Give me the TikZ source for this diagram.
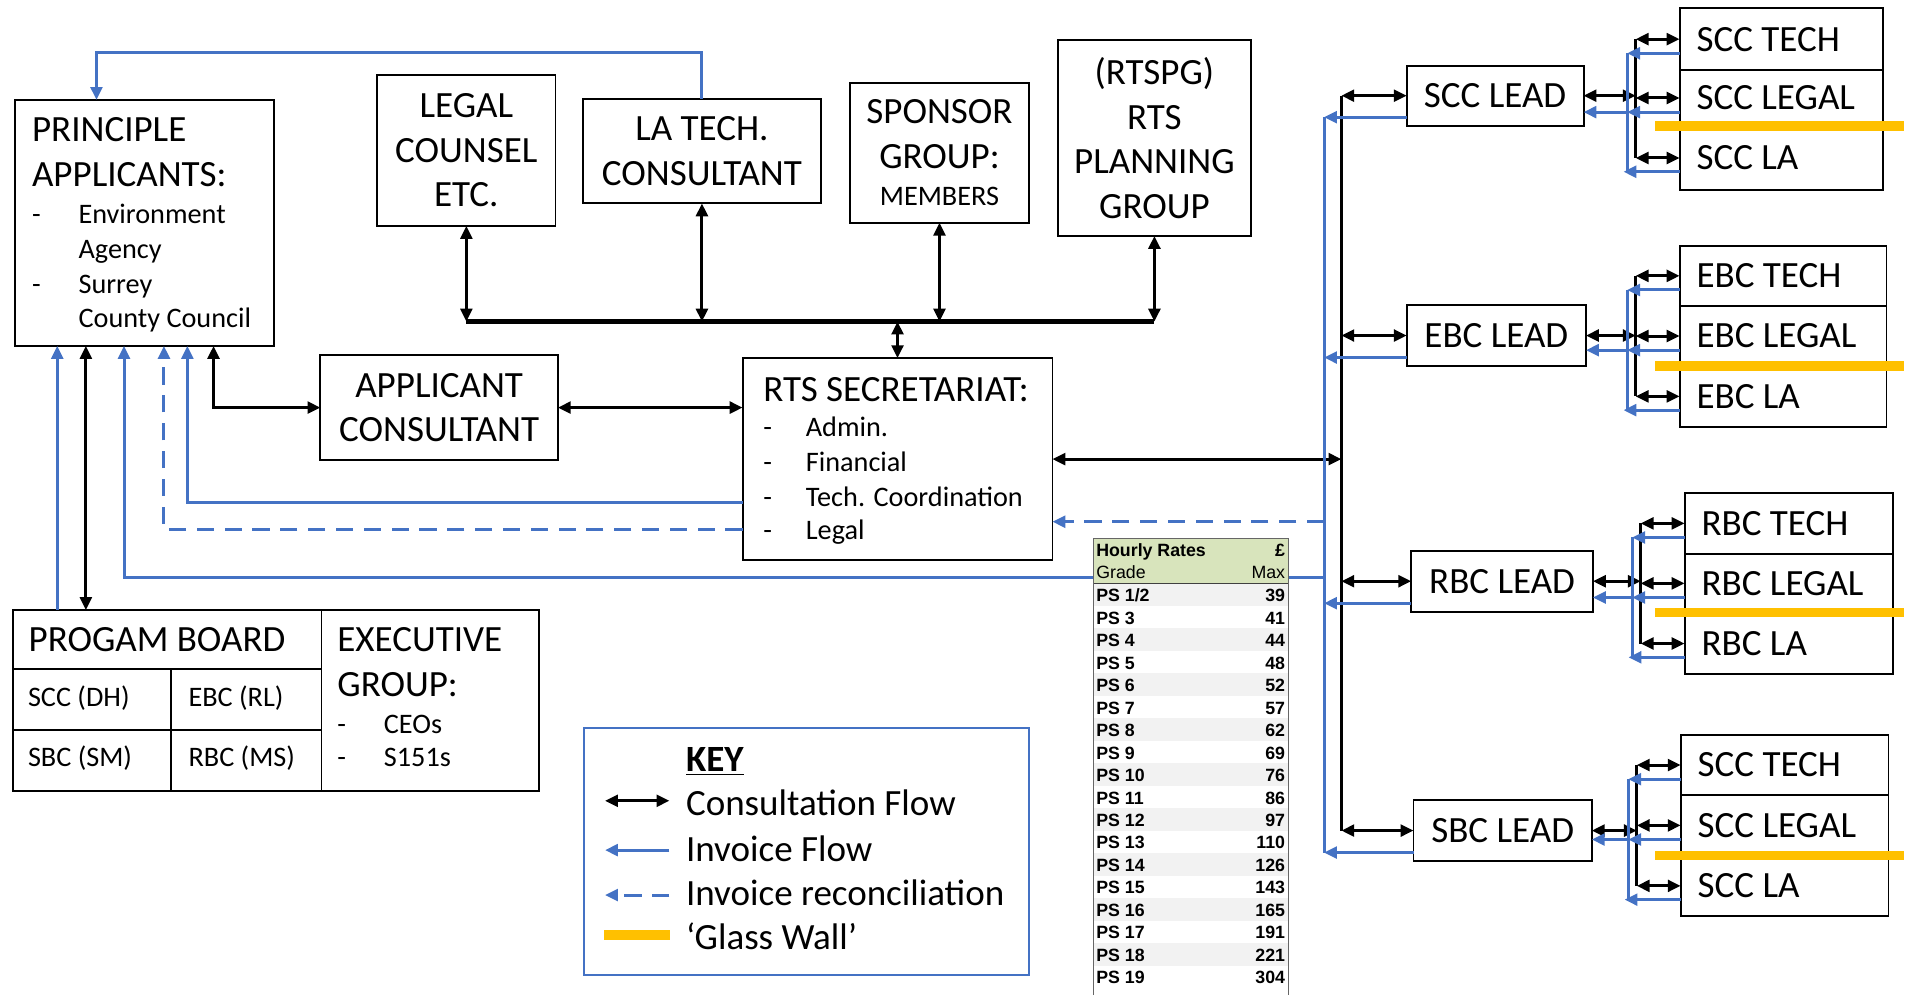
\documentclass[tikz,border=0pt]{standalone}
\usepackage{fontspec}
\setmainfont{Carlito}
\newfontfamily\tabfont{Liberation Sans}
\usetikzlibrary{arrows.meta,calc}
\definecolor{invblue}{HTML}{4472C4}
\definecolor{glass}{HTML}{FFC000}
\definecolor{hdrgreen}{HTML}{D8E4BC}
\definecolor{rowgrey}{HTML}{F2F2F2}
\newcommand\bigf{\fontsize{17.3}{20.9}\selectfont}
\newcommand\smf{\fontsize{13.2}{16}\selectfont}
\newcommand\tabB{\tabfont\bfseries\fontsize{8.3}{10}\selectfont}
\newcommand\tabR{\tabfont\fontsize{8.3}{10}\selectfont}
% sub group: #1 prefix, #2 label, #3 left x, #4 right x, #5..#8 y borders, #9 lead node
\newcommand\subgrp[9]{%
  \pgfmathsetmacro\sgcx{(#3+#4)/2}\pgfmathsetmacro\sgw{#4-#3}%
  \pgfmathsetmacro\sgca{(#5+#6)/2}\pgfmathsetmacro\sgha{#6-#5}%
  \pgfmathsetmacro\sgcb{(#6+#7)/2}\pgfmathsetmacro\sghb{#7-#6}%
  \pgfmathsetmacro\sgcc{(#7+#8)/2}\pgfmathsetmacro\sghc{#8-#7}%
  \node[cell, sz={\sgw}{\sgha}] (#1T) at (\sgcx,\sgca) {};
  \node[cell, sz={\sgw}{\sghb}] (#1G) at (\sgcx,\sgcb) {};
  \node[cell, sz={\sgw}{\sghc}] (#1A) at (\sgcx,\sgcc) {};
  \node[subt] (#1Tt) at ($(#1T.west)+(14,0)$) {#2 TECH};
  \node[subt] (#1Gt) at ($(#1G.west)+(14,0)$) {#2 LEGAL};
  \node[subt] (#1At) at ($(#1A.west)+(14,0)$) {#2 LA};
  \coordinate (#1K) at ({#3-36},0);
  \coordinate (#1U) at ({#3-43},0);
  \draw[con] (#9.east) -- (#9.east -| #1K);
  \draw[kline] (#1K |- #1T.west) -- (#1K |- #1A.west);
  \draw[con] (#1K |- #1T.west) -- (#1T.west);
  \draw[con] (#1K |- #1G.west) -- (#1G.west);
  \draw[con] (#1K |- #1A.west) -- (#1A.west);
  \coordinate (#1Tb) at ($(#1T.west)+(0,11.6)$);
  \coordinate (#1Gb) at ($(#1G.west)+(0,11.6)$);
  \coordinate (#1Ab) at ($(#1A.west)+(0,11.3)$);
  \draw[invl] (#1U |- #1Tb) -- (#1U |- #1Ab);
  \draw[inv] (#1Tb) -- (#1U |- #1Tb);
  \draw[inv] (#1Gb) -- (#1U |- #1Gb);
  \draw[inv] (#1Ab) -- ($(#1U |- #1Ab)+(-3,0)$);
  \draw[inv] (#1U |- #1Gb) -- (#9.east |- #1Gb);
  \draw[gw] (1359,#7) -- (1563,#7);
}
\begin{document}
\begin{tikzpicture}[x=0.02cm,y=-0.02cm,
  sz/.style 2 args={minimum width=#1*0.02cm, minimum height=#2*0.02cm},
  box/.style={draw, line width=0.9pt, inner sep=0pt, outer sep=0pt, align=center, font=\bigf},
  cell/.style={draw, line width=0.9pt, inner sep=0pt, outer sep=0pt},
  subt/.style={anchor=west, inner sep=0pt, outer sep=0pt, font=\bigf},
  txt/.style={inner sep=0pt, outer sep=0pt, anchor=base west},
  tip/.tip={Triangle[length=6pt,width=5.5pt]},
  con/.style={line width=1.4pt, tip-tip},
  kline/.style={line width=1.4pt},
  busl/.style={line width=2pt},
  inv/.style={invblue, line width=1.4pt, -tip},
  invl/.style={invblue, line width=1.4pt},
  rec/.style={inv, dash pattern=on 8pt off 5pt},
  gw/.style={glass, line width=4.3pt},
]
\useasboundingbox (0,0) rectangle (1568,817);

% ---------- boxes ----------
\node[box, sz={212.3}{202}] (pa) at (118.45,183) {};
\node[txt, font=\bigf] (pa1) at (26.3,116.3) {PRINCIPLE};
\node[txt, font=\bigf] (pa2) at (26.3,153.3) {APPLICANTS:};
\node[txt, font=\smf] (pa3) at (26.3,183.4) {\makebox[0.764cm][l]{-}Environment};
\node[txt, font=\smf] (pa4) at (64.5,212.1) {Agency};
\node[txt, font=\smf] (pa5) at (26.3,240.8) {\makebox[0.764cm][l]{-}Surrey};
\node[txt, font=\smf] (pa6) at (64.5,268.7) {County Council};

\node[box, sz={146.3}{124.3}] (lc) at (382.85,123.35) {LEGAL\\COUNSEL\\ETC.};
\node[box, sz={195.5}{86.1}] (lat) at (576.25,123.95) {LA TECH.\\CONSULTANT};
\node[box, sz={147.5}{115}] (sp) at (771.25,125.3) {SPONSOR\\GROUP:\\[-3.9pt]{\smf MEMBERS}};
\node[box, sz={158.6}{160.7}] (rp) at (947.7,113.35) {(RTSPG)\\RTS\\PLANNING\\GROUP};
\node[box, sz={195}{86.2}] (ac) at (360.5,334.6) {APPLICANT\\CONSULTANT};

\node[box, sz={254.4}{165.8}] (sec) at (736.8,376.9) {};
\node[txt, font=\bigf] (sec1) at (626.6,329.8) {RTS SECRETARIAT:};
\node[txt, font=\smf] (sec2) at (626.6,358.5) {\makebox[0.70cm][l]{-}Admin.};
\node[txt, font=\smf] (sec3) at (626.6,387.3) {\makebox[0.70cm][l]{-}Financial};
\node[txt, font=\smf] (sec4) at (626.6,416) {\makebox[0.70cm][l]{-}Tech. Coordination};
\node[txt, font=\smf] (sec5) at (626.6,443.3) {\makebox[0.70cm][l]{-}Legal};

% program board
\node[cell, sz={253.6}{48.5}] (pbt) at (137.1,525.05) {};
\node[cell, sz={130.4}{50}] (pb11) at (75.5,574.3) {};
\node[cell, sz={123.2}{50}] (pb12) at (202.3,574.3) {};
\node[cell, sz={130.4}{50.1}] (pb21) at (75.5,624.35) {};
\node[cell, sz={123.2}{50.1}] (pb22) at (202.3,624.35) {};
\node[cell, sz={178.3}{148.6}] (exg) at (353.05,575.1) {};
\node[txt, font=\bigf] (pbt1) at (23.5,535) {PROGAM BOARD};
\node[txt, font=\smf] (pb11t) at (23,580.2) {SCC (DH)};
\node[txt, font=\smf] (pb12t) at (154.8,580.2) {EBC (RL)};
\node[txt, font=\smf] (pb21t) at (23,629.4) {SBC (SM)};
\node[txt, font=\smf] (pb22t) at (154.8,629.4) {RBC (MS)};
\node[txt, font=\bigf] (ex1) at (277,535) {EXECUTIVE};
\node[txt, font=\bigf] (ex2) at (277,572) {GROUP:};
\node[txt, font=\smf] (ex3) at (277,602) {\makebox[0.764cm][l]{-}CEOs};
\node[txt, font=\smf] (ex4) at (277,629.4) {\makebox[0.764cm][l]{-}S151s};

% leads
\node[box, sz={145.2}{49.3}] (scl) at (1227.4,78.55) {SCC LEAD};
\node[box, sz={147.2}{50.1}] (ebl) at (1228.4,275.45) {EBC LEAD};
\node[box, sz={149.2}{50.1}] (rbl) at (1233.1,477.15) {RBC LEAD};
\node[box, sz={146.4}{50.1}] (sbl) at (1233.6,681.85) {SBC LEAD};

% ---------- coordinates ----------
\coordinate (bus) at (0,264);
\coordinate (rbus) at (1101.2,0);
\coordinate (bbus) at (1087,0);
\coordinate (topL) at (79.2,43.3);
\coordinate (xa) at (47,0);
\coordinate (xb) at (70.5,0);
\coordinate (xc) at (101.8,0);
\coordinate (xd) at (134.6,0);
\coordinate (xe) at (153.8,0);
\coordinate (xf) at (175.3,0);
\coordinate (yinv) at (0,474.3);
\coordinate (yrec) at (0,434.6);
\coordinate (yinv2) at (0,412.7);
\coordinate (yrec2) at (0,428.3);

% ---------- top consultation bus ----------
\draw[busl] (lc.south |- bus) -- (rp.south |- bus);
\draw[con] (lc.south) -- (lc.south |- bus);
\draw[con] (lat.south) -- (lat.south |- bus);
\draw[con] (sp.south) -- (sp.south |- bus);
\draw[con] (rp.south) -- (rp.south |- bus);
\draw[con] (sec.north |- bus) -- (sec.north);

% LA tech invoice to principle applicants
\draw[inv] (lat.north) |- (topL) -- (topL |- pa.north);

% ---------- left connectors ----------
\draw[inv] (xa |- pbt.north) -- (xa |- pa.south);
\draw[con] (xb |- pa.south) -- (xb |- pbt.north);
\draw[inv] (bbus |- yinv) -| (xc |- pa.south);
\draw[rec] (sec.west |- yrec) -| (xd |- pa.south);
\draw[inv] (sec.west |- yinv2) -| (xe |- pa.south);
\draw[con] (xf |- pa.south) |- (ac.west);
\draw[con] (ac.east) -- (ac.east -| sec.west);
\draw[con] (sec.east) -- (sec.east -| rbus);
\draw[rec] (bbus |- yrec2) -- (sec.east |- yrec2);

% ---------- right buses ----------
\draw[kline] (rbus |- scl.west) -- (rbus |- sbl.west);
\foreach \L in {scl,ebl,rbl,sbl} {
  \draw[con] (rbus |- \L.west) -- (\L.west);
  \coordinate (\L b) at ($(\L.south west)+(0,-7)$);
  \draw[inv] (\L b) -- (bbus |- \L b);
}
\draw[invl] (bbus |- sclb) -- (bbus |- sblb);

% ---------- sub groups ----------
\subgrp{sc}{SCC}{1378.8}{1545.6}{6.8}{57.5}{103.4}{156}{scl}
\subgrp{eb}{EBC}{1378.8}{1548.7}{201.7}{251.2}{300.5}{350.3}{ebl}
\subgrp{rb}{RBC}{1382.9}{1554}{404.5}{454.8}{503}{553.6}{rbl}
\subgrp{sb}{SCC}{1379.7}{1550.3}{603.4}{652.7}{702.5}{752}{sbl}

% ---------- key ----------
\node[draw=invblue, line width=0.8pt, inner sep=0pt, sz={365.1}{203.1}] (key) at (662.05,698.95) {};
\node[txt, font=\bigf\bfseries] (k0) at (563.2,633) {\underline{KEY}};
\node[txt, font=\bigf] (k1) at (563.2,669.1) {Consultation Flow};
\node[txt, font=\bigf] (k2) at (563.2,706.9) {Invoice Flow};
\node[txt, font=\bigf] (k3) at (563.2,743) {Invoice reconciliation};
\node[txt, font=\bigf] (k4) at (563.2,779.4) {‘Glass Wall’};
\coordinate (ka1) at (496.7,657.4); \coordinate (kb1) at (549.5,657.4);
\coordinate (ka2) at (496.7,697.9); \coordinate (kb2) at (549.5,697.9);
\coordinate (ka3) at (496.7,734.8); \coordinate (kb3) at (549.5,734.8);
\coordinate (ka4) at (496,767.6);   \coordinate (kb4) at (550,767.6);
\draw[con] (ka1) -- (kb1);
\draw[inv] (kb2) -- (ka2);
\draw[rec] (kb3) -- (ka3);
\draw[gw] (ka4) -- (kb4);

% ---------- hourly rates table ----------
\fill[white] (897.6,442) rectangle (1057.5,817);
\fill[hdrgreen] (897.6,442) rectangle (1057.5,479);
\foreach \i in {0,2,...,16} {
  \fill[rowgrey] (897.6,{479+18.45*\i}) rectangle (1057.5,{479+18.45*(\i+1)});
}
\draw[black!75, line width=0.8pt] (897.6,479) -- (1057.5,479);
\draw[black!60, line width=0.6pt] (897.6,817) -- (897.6,442) -- (1057.5,442) -- (1057.5,817);
\node[txt, font=\tabB] (th1) at (900,456.5) {Hourly Rates};
\node[txt, anchor=base east, font=\tabB] (th2) at (1055,456.5) {£};
\node[txt, font=\tabR] (th3) at (900,474.8) {Grade};
\node[txt, anchor=base east, font=\tabR] (th4) at (1055,474.8) {Max};
\foreach \g/\v [count=\i from 0] in {{1/2}/39,3/41,4/44,5/48,6/52,7/57,8/62,9/69,10/76,11/86,12/97,13/110,14/126,15/143,16/165,17/191,18/221,19/304} {
  \node[txt, font=\tabB] (tg\i) at (900,{494+18.45*\i}) {PS \g};
  \node[txt, anchor=base east, font=\tabB] (tv\i) at (1055,{494+18.45*\i}) {\v};
}
\end{tikzpicture}
\end{document}
